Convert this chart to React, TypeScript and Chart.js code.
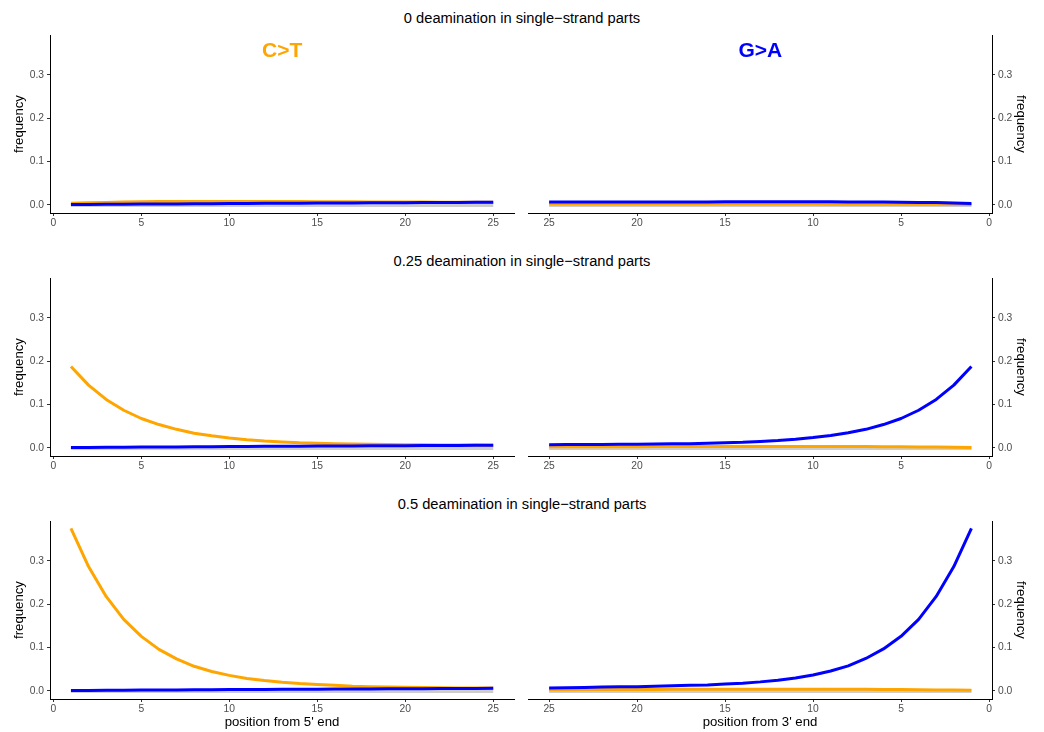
import React, { useEffect, useRef } from "react";
import { Chart, registerables } from "chart.js";

Chart.register(...registerables);

const FONT = "'Liberation Sans', Arial, Helvetica, sans-serif";
Chart.defaults.font.family = FONT;

// read position (1 = terminal base)
const positions = [1, 2, 3, 4, 5, 6, 7, 8, 9, 10, 11, 12, 13, 14, 15, 16, 17, 18, 19, 20, 21, 22, 23, 24, 25];
const xTicks = [0, 5, 10, 15, 20, 25];
const yTicks = [0, 0.1, 0.2, 0.3];

const rowTitles = [
  "0 deamination in single\u2212strand parts",
  "0.25 deamination in single\u2212strand parts",
  "0.5 deamination in single\u2212strand parts",
];

// 5' end: C>T (orange) and G>A (blue)
const ct5_d0 = [0.004, 0.005, 0.006, 0.007, 0.0075, 0.008, 0.008, 0.008, 0.008, 0.008, 0.008, 0.008, 0.008, 0.0078, 0.0076, 0.0074, 0.0072, 0.007, 0.007, 0.0068, 0.0066, 0.0065, 0.0064, 0.0063, 0.0062];
const ga5_d0 = [0.001, 0.0013, 0.0016, 0.0018, 0.002, 0.0023, 0.0025, 0.0028, 0.003, 0.0032, 0.0035, 0.0037, 0.004, 0.0042, 0.0044, 0.0046, 0.0048, 0.005, 0.0052, 0.0054, 0.0056, 0.0058, 0.006, 0.0062, 0.0064];
const ct5_d25 = [0.188, 0.145, 0.112, 0.087, 0.068, 0.054, 0.043, 0.034, 0.028, 0.023, 0.019, 0.016, 0.014, 0.012, 0.011, 0.01, 0.009, 0.0085, 0.008, 0.0075, 0.0072, 0.007, 0.0068, 0.0066, 0.0065];
const ga5_d25 = [0.001, 0.0013, 0.0016, 0.0018, 0.002, 0.0023, 0.0025, 0.0028, 0.003, 0.0032, 0.0035, 0.0037, 0.004, 0.0042, 0.0044, 0.0046, 0.0048, 0.005, 0.0052, 0.0054, 0.0056, 0.0058, 0.006, 0.0062, 0.0064];
const ct5_d50 = [0.375, 0.287, 0.218, 0.165, 0.126, 0.096, 0.074, 0.057, 0.045, 0.036, 0.029, 0.024, 0.02, 0.017, 0.015, 0.013, 0.011, 0.01, 0.009, 0.0085, 0.008, 0.0075, 0.007, 0.007, 0.0068];
const ga5_d50 = [0.001, 0.0012, 0.0015, 0.0017, 0.002, 0.0022, 0.0025, 0.0027, 0.003, 0.0032, 0.0034, 0.0036, 0.0038, 0.004, 0.0042, 0.0044, 0.0046, 0.0048, 0.005, 0.0052, 0.0054, 0.0056, 0.0058, 0.006, 0.0062];

// 3' end: C>T (orange) and G>A (blue)
const ct3_d0 = [0.0012, 0.0014, 0.0015, 0.0016, 0.0017, 0.0018, 0.0018, 0.0019, 0.0019, 0.002, 0.002, 0.002, 0.002, 0.002, 0.002, 0.002, 0.002, 0.002, 0.002, 0.002, 0.002, 0.002, 0.002, 0.002, 0.002];
const ga3_d0 = [0.0035, 0.0045, 0.0055, 0.006, 0.0065, 0.0068, 0.007, 0.007, 0.0072, 0.0072, 0.0072, 0.0072, 0.0072, 0.0072, 0.0072, 0.0071, 0.0071, 0.0071, 0.007, 0.007, 0.007, 0.007, 0.007, 0.007, 0.007];
const ct3_d25 = [0.0012, 0.0018, 0.0022, 0.0025, 0.0028, 0.003, 0.0032, 0.0033, 0.0034, 0.0035, 0.0035, 0.0035, 0.0035, 0.0034, 0.0034, 0.0033, 0.0033, 0.0032, 0.0032, 0.0031, 0.0031, 0.003, 0.003, 0.003, 0.003];
const ga3_d25 = [0.188, 0.145, 0.112, 0.087, 0.068, 0.054, 0.043, 0.035, 0.029, 0.024, 0.02, 0.017, 0.015, 0.013, 0.012, 0.011, 0.01, 0.0095, 0.009, 0.0088, 0.0085, 0.0082, 0.008, 0.0078, 0.0076];
const ct3_d50 = [0.0014, 0.002, 0.0025, 0.003, 0.0033, 0.0036, 0.0038, 0.004, 0.004, 0.0041, 0.0041, 0.0041, 0.004, 0.004, 0.004, 0.0039, 0.0038, 0.0037, 0.0036, 0.0035, 0.0034, 0.0033, 0.0032, 0.0031, 0.003];
const ga3_d50 = [0.375, 0.287, 0.218, 0.165, 0.126, 0.097, 0.075, 0.058, 0.046, 0.037, 0.03, 0.025, 0.021, 0.018, 0.016, 0.014, 0.013, 0.012, 0.011, 0.01, 0.0095, 0.009, 0.008, 0.0075, 0.007];

// remaining substitution types, all close to zero
const otherFreq = [0, 0, 0, 0, 0, 0, 0, 0, 0, 0, 0, 0, 0, 0, 0, 0, 0, 0, 0, 0, 0, 0, 0, 0, 0];

const ORANGE = "#FFA500";
const BLUE = "#0000FF";
const GREY = "rgba(200,200,200,0.9)";

const toPoints = (vals: number[]) => positions.map((p, i) => ({ x: p, y: vals[i] }));

type PanelProps = {
  side: "left" | "right";
  top: number;
  ct: number[];
  ga: number[];
  xTitle?: string;
  tag?: { text: string; color: string; x: number; y: number };
};

function Panel({ side, top, ct, ga, xTitle, tag }: PanelProps) {
  const ref = useRef<HTMLCanvasElement | null>(null);
  const isLeft = side === "left";
  const canvasLeft = isLeft ? 0 : 520;
  const width = isLeft ? 520 : 524;
  const xh = xTitle ? 34 : 22;
  const height = 10 + 178 + xh;

  useEffect(() => {
    if (!ref.current) return;
    const tagPlugin = {
      id: "substitutionTag",
      afterDatasetsDraw(chart: any) {
        if (!tag) return;
        const { ctx, scales } = chart;
        ctx.save();
        ctx.font = `bold 21px ${FONT}`;
        ctx.fillStyle = tag.color;
        ctx.textAlign = "center";
        ctx.textBaseline = "middle";
        ctx.fillText(tag.text, scales.x.getPixelForValue(tag.x), scales.y.getPixelForValue(tag.y));
        ctx.restore();
      },
    };

    // lower `order` is painted on top: blue over orange over grey
    const chart = new Chart(ref.current, {
      type: "line",
      data: {
        datasets: [
          { label: "other", data: toPoints(otherFreq), borderColor: GREY, borderWidth: 4, order: 3 },
          { label: "C>T", data: toPoints(ct), borderColor: ORANGE, borderWidth: 3, order: 2 },
          { label: "G>A", data: toPoints(ga), borderColor: BLUE, borderWidth: 3, order: 1 },
        ],
      },
      options: {
        responsive: false,
        animation: false,
        devicePixelRatio: 1,
        layout: { padding: { top: 10, bottom: 0, left: isLeft ? 0 : 8, right: isLeft ? 6 : 0 } },
        plugins: { legend: { display: false }, tooltip: { enabled: false } },
        elements: {
          point: { radius: 0 },
          line: { tension: 0, borderCapStyle: "butt", borderJoinStyle: "round", fill: false },
        },
        scales: {
          x: {
            type: "linear",
            reverse: !isLeft,
            min: isLeft ? -0.19 : -0.17,
            max: isLeft ? 26.18 : 26.2,
            afterBuildTicks: (s: any) => {
              s.ticks = xTicks.map((v) => ({ value: v }));
            },
            afterFit: (s: any) => {
              s.height = xh;
            },
            ticks: {
              color: "#4D4D4D",
              font: { size: 10.3 },
              padding: 1,
              maxRotation: 0,
              autoSkip: false,
              callback: (v: any) => String(v),
            },
            grid: { drawOnChartArea: false, drawTicks: true, tickLength: 3, color: "#333333" },
            border: { display: true, color: "#000000", width: 1 },
            title: {
              display: !!xTitle,
              text: xTitle || "",
              color: "#000000",
              font: { size: 13.2 },
              padding: { top: 0, bottom: 3 },
            },
          },
          y: {
            type: "linear",
            position: side,
            min: -0.0185,
            max: 0.392,
            afterBuildTicks: (s: any) => {
              s.ticks = yTicks.map((v) => ({ value: v }));
            },
            afterFit: (s: any) => {
              s.width = isLeft ? 50 : 52;
            },
            ticks: {
              color: "#4D4D4D",
              font: { size: 10.3 },
              padding: 3,
              autoSkip: false,
              callback: (v: any) => Number(v).toFixed(1),
            },
            grid: { drawOnChartArea: false, drawTicks: true, tickLength: 3, color: "#333333" },
            border: { display: true, color: "#000000", width: 1 },
            title: {
              display: true,
              text: "frequency",
              color: "#000000",
              font: { size: 13.2 },
              padding: { top: isLeft ? 11 : 15, bottom: 0 },
            },
          },
        },
      } as any,
      plugins: [tagPlugin],
    });
    return () => chart.destroy();
  }, []);

  return (
    <canvas
      ref={ref}
      width={width}
      height={height}
      style={{ position: "absolute", left: canvasLeft, top: top - 10, width, height, display: "block" }}
    />
  );
}

const rowTops = [35, 278, 521];
const titleCenters = [18, 261, 504];

export default function App() {
  return (
    <div
      style={{
        position: "fixed",
        left: 0,
        top: 0,
        width: 1044,
        height: 732,
        background: "#ffffff",
        overflow: "hidden",
        fontFamily: FONT,
      }}
    >
      {rowTitles.map((t, i) => (
        <div
          key={t}
          style={{
            position: "absolute",
            left: 0,
            width: 1044,
            top: titleCenters[i] - 10,
            height: 20,
            lineHeight: "20px",
            textAlign: "center",
            fontSize: 14.7,
            color: "#000000",
            whiteSpace: "nowrap",
          }}
        >
          {t}
        </div>
      ))}
      <Panel side="left" top={rowTops[0]} ct={ct5_d0} ga={ga5_d0} tag={{ text: "C>T", color: ORANGE, x: 13, y: 0.355 }} />
      <Panel side="right" top={rowTops[0]} ct={ct3_d0} ga={ga3_d0} tag={{ text: "G>A", color: BLUE, x: 13, y: 0.355 }} />
      <Panel side="left" top={rowTops[1]} ct={ct5_d25} ga={ga5_d25} />
      <Panel side="right" top={rowTops[1]} ct={ct3_d25} ga={ga3_d25} />
      <Panel side="left" top={rowTops[2]} ct={ct5_d50} ga={ga5_d50} xTitle="position from 5' end" />
      <Panel side="right" top={rowTops[2]} ct={ct3_d50} ga={ga3_d50} xTitle="position from 3' end" />
    </div>
  );
}
